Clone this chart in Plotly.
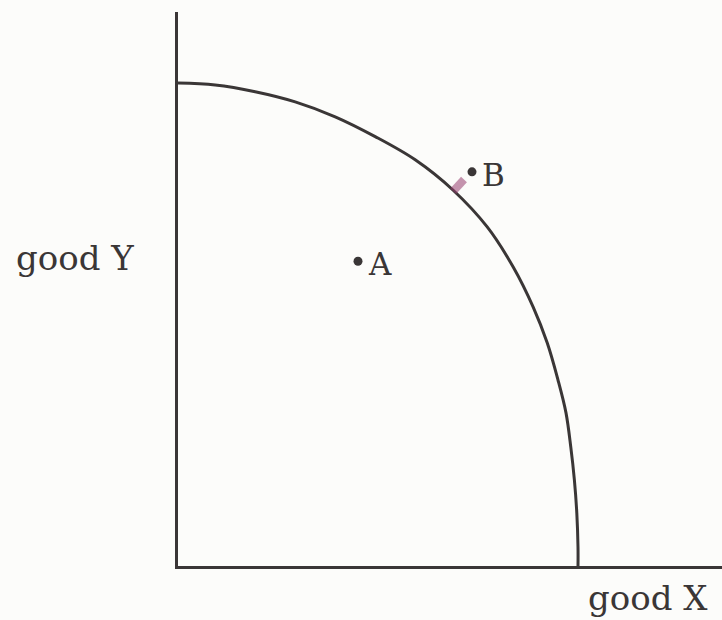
import plotly.graph_objects as go

# frontier (good X, good Y), intercepts at 10
ppf_x = [0, 0.93, 1.93, 2.93, 3.93, 4.93, 5.93, 6.88, 7.73, 8.38, 8.88, 9.23, 9.5, 9.70, 9.82,
         9.91, 9.97, 10.0, 10.0]
ppf_y = [10, 9.96, 9.82, 9.61, 9.30, 8.89, 8.41, 7.78, 7.02, 6.19, 5.36, 4.62, 3.85, 3.17, 2.46,
         1.78, 1.10, 0.39, 0]

point_names = ["A", "B"]
point_x = [4.5, 7.35]
point_y = [6.31, 8.16]

# pink smudge on the curve next to B
mark_x = [6.88, 7.15]
mark_y = [7.76, 8.0]

ink = "#3a3636"
serif = "DejaVu Serif, Liberation Serif, serif"

fig = go.Figure()

fig.add_trace(go.Scatter(x=ppf_x, y=ppf_y, mode="lines",
                         line=dict(color=ink, width=3, shape="spline", smoothing=1.0),
                         hoverinfo="skip"))
fig.add_trace(go.Scatter(x=mark_x, y=mark_y, mode="lines",
                         line=dict(color="rgba(150,60,110,0.55)", width=8),
                         hoverinfo="skip"))
fig.add_trace(go.Scatter(x=point_x, y=point_y, mode="markers",
                         marker=dict(color=ink, size=9),
                         text=point_names, hoverinfo="text"))

for name, px, py in zip(point_names, point_x, point_y):
    fig.add_annotation(x=px, y=py, text=name, showarrow=False, xanchor="left",
                       xshift=8, yshift=-3, font=dict(family=serif, size=31, color=ink))

fig.add_annotation(x=-0.189, y=0.556, xref="paper", yref="paper", text="good Y",
                   showarrow=False, xanchor="center", yanchor="middle",
                   font=dict(family=serif, size=34, color=ink))
fig.add_annotation(x=0.864, y=-0.058, xref="paper", yref="paper", text="good X",
                   showarrow=False, xanchor="center", yanchor="middle",
                   font=dict(family=serif, size=34, color=ink))

fig.update_xaxes(range=[0, 13.6], showgrid=False, zeroline=False, showticklabels=False,
                 showline=True, linecolor=ink, linewidth=3, ticks="")
fig.update_yaxes(range=[0, 11.47], showgrid=False, zeroline=False, showticklabels=False,
                 showline=True, linecolor=ink, linewidth=3, ticks="")

fig.update_layout(width=722, height=620, showlegend=False,
                  margin=dict(l=178, r=0, t=12, b=54),
                  paper_bgcolor="#fcfcfa", plot_bgcolor="#fcfcfa")

fig.write_html("out.html", config={"displayModeBar": False},
               post_script="document.body.style.margin='0';")
